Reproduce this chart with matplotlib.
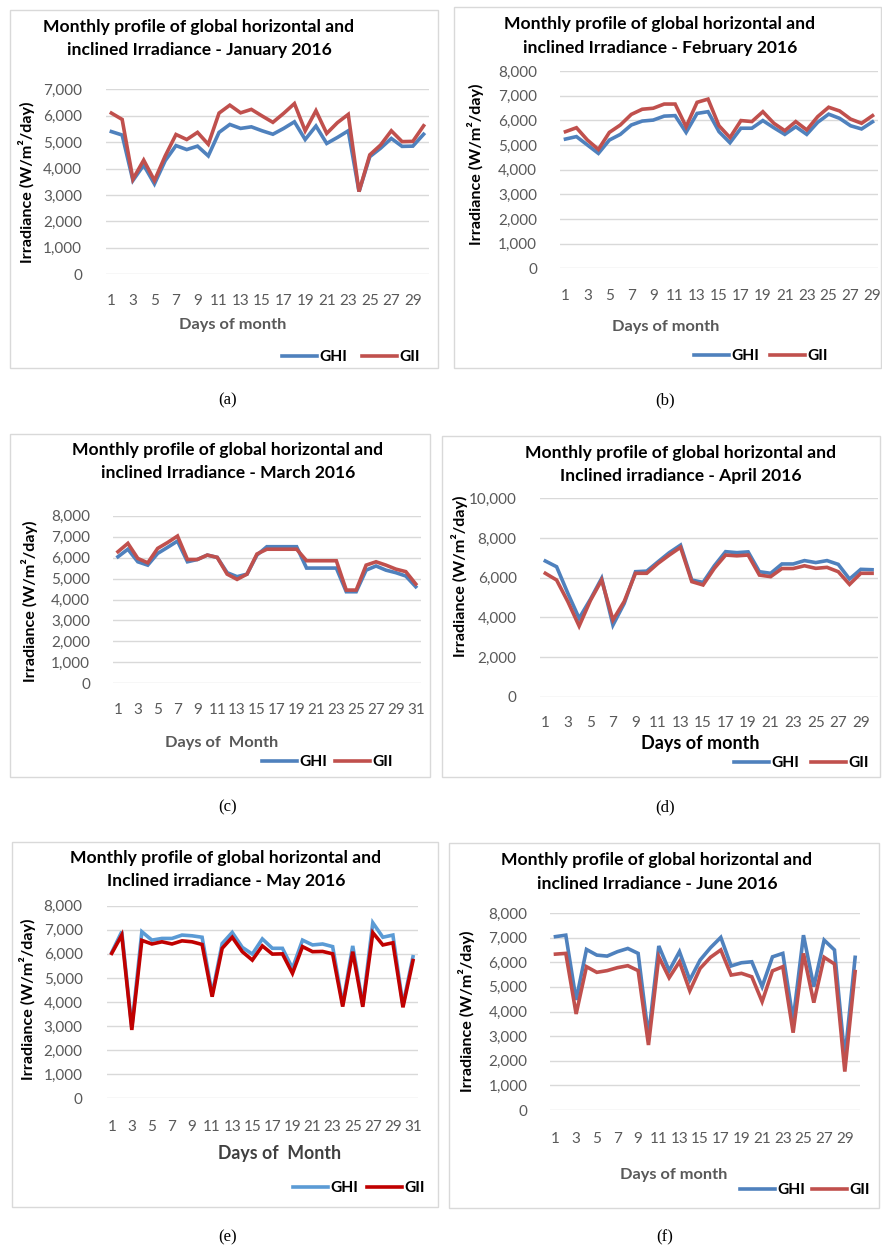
import matplotlib
matplotlib.use("Agg")
import matplotlib.pyplot as plt
from matplotlib.patches import Rectangle

W, H = 882, 1249

# ---------------- data ----------------
jan_ghi = [5400, 5270, 3550, 4130, 3420, 4300, 4870, 4720, 4850, 4480, 5370, 5670, 5520, 5580, 5430,
           5300, 5520, 5770, 5100, 5610, 4950, 5180, 5430, 3130, 4450, 4770, 5140, 4840, 4850, 5300]
jan_gii = [6100, 5860, 3600, 4320, 3550, 4480, 5290, 5100, 5370, 4920, 6100, 6400, 6110, 6240, 5990,
           5750, 6090, 6460, 5430, 6190, 5330, 5740, 6050, 3130, 4520, 4890, 5430, 5020, 5030, 5620]

feb_ghi = [5240, 5340, 5000, 4660, 5200, 5430, 5810, 5970, 6010, 6170, 6190, 5510, 6280, 6350, 5540,
           5090, 5680, 5680, 5990, 5700, 5430, 5740, 5430, 5920, 6250, 6080, 5780, 5650, 5940]
feb_gii = [5540, 5700, 5200, 4820, 5510, 5810, 6240, 6450, 6490, 6660, 6660, 5740, 6730, 6860, 5780,
           5300, 5990, 5950, 6350, 5880, 5580, 5950, 5610, 6150, 6530, 6380, 6050, 5880, 6190]

mar_ghi = [6040, 6400, 5800, 5640, 6200, 6490, 6790, 5800, 5910, 6120, 6010, 5280, 5090, 5210, 6120,
           6520, 6520, 6520, 6520, 5500, 5500, 5500, 5500, 4370, 4370, 5400, 5600, 5400, 5280, 5120, 4610]
mar_gii = [6280, 6680, 5960, 5750, 6440, 6720, 7030, 5910, 5910, 6120, 6010, 5210, 4960, 5210, 6170,
           6400, 6400, 6400, 6400, 5850, 5850, 5850, 5850, 4450, 4450, 5640, 5800, 5640, 5450, 5330, 4740]

apr_ghi = [6840, 6550, 5210, 3950, 4910, 5970, 3610, 4700, 6300, 6330, 6800, 7260, 7640, 5880, 5760,
           6600, 7310, 7260, 7300, 6300, 6220, 6690, 6690, 6860, 6760, 6860, 6670, 5930, 6420, 6400]
apr_gii = [6220, 5880, 4790, 3560, 4850, 5880, 3870, 4800, 6220, 6220, 6720, 7140, 7530, 5800, 5630,
           6470, 7140, 7100, 7140, 6130, 6050, 6460, 6460, 6600, 6470, 6520, 6300, 5660, 6220, 6220]

may_ghi = [6060, 6920, 2950, 6920, 6570, 6640, 6640, 6780, 6750, 6690, 4330, 6430, 6890, 6270, 5990, 6620,
           6230, 6230, 5400, 6570, 6370, 6410, 6300, 3900, 6330, 3880, 7290, 6690, 6780, 3880, 5880]
may_gii = [6020, 6780, 2840, 6560, 6410, 6500, 6410, 6540, 6500, 6390, 4220, 6230, 6690, 6090, 5740, 6330,
           5990, 6000, 5190, 6300, 6090, 6100, 6000, 3810, 6090, 3800, 6880, 6370, 6460, 3780, 5720]

jun_ghi = [7040, 7100, 4470, 6520, 6290, 6250, 6430, 6560, 6360, 2980, 6660, 5660, 6430, 5280, 6090,
           6590, 7010, 5850, 5980, 6020, 5010, 6220, 6360, 3650, 7100, 5010, 6900, 6500, 2100, 6200]
jun_gii = [6330, 6360, 3900, 5820, 5590, 5660, 5780, 5860, 5660, 2640, 6220, 5370, 6020, 4840, 5750,
           6200, 6500, 5480, 5550, 5410, 4400, 5650, 5820, 3140, 6360, 4360, 6200, 5930, 1560, 5620]

titles = [
    ("Monthly profile of global horizontal and", "inclined Irradiance - January 2016"),
    ("Monthly profile of global horizontal and", "inclined Irradiance - February 2016"),
    ("Monthly profile of global horizontal and", "inclined Irradiance - March 2016"),
    ("Monthly profile of global horizontal and", "Inclined irradiance - April 2016"),
    ("Monthly profile of global horizontal and", "Inclined irradiance - May 2016"),
    ("Monthly profile of global horizontal and", "inclined Irradiance - June 2016"),
]
xlabels = ["Days of month", "Days of month", "Days of  Month", "Days of month", "Days of  Month", "Days of month"]
captions = ["(a)", "(b)", "(c)", "(d)", "(e)", "(f)"]
series_names = ["GHI", "GII"]
ylabel = "Irradiance (W/m\u00b2/day)"

# ---------------- layout (pixels) ----------------
panels = [
    dict(ghi=jan_ghi, gii=jan_gii, ymax=7000, step=1000, box=(10, 10, 438, 368),
         ax=(106, 429, 89.3, 274.3), ypad=24, xpad=20, tt=(199, 32, 55), yl=(27, 182),
         xl=(233, 325), xlcol="#595959", xlsize=11.8, leg=(282, 362, 357),
         cap=(228, 400), c1="#4F81BD", c2="#C0504D"),
    dict(ghi=feb_ghi, gii=feb_gii, ymax=8000, step=1000, box=(454, 7, 881, 368),
         ax=(560, 878, 71, 268.3), ypad=23, xpad=21, tt=(660, 29, 53), yl=(475, 164),
         xl=(666, 327), xlcol="#595959", xlsize=11.8, leg=(694, 770, 356),
         cap=(665, 400), c1="#4F81BD", c2="#C0504D"),
    dict(ghi=mar_ghi, gii=mar_gii, ymax=8000, step=1000, box=(10, 434, 430, 777),
         ax=(113, 420.7, 515.7, 683.3), ypad=23, xpad=20, tt=(228, 455, 478), yl=(30, 601),
         xl=(222, 743), xlcol="#595959", xlsize=11.8, leg=(262, 335, 762),
         cap=(228, 807), c1="#4F81BD", c2="#C0504D"),
    dict(ghi=apr_ghi, gii=apr_gii, ymax=10000, step=2000, box=(442, 436, 880, 777),
         ax=(539.7, 877.7, 498.3, 696.7), ypad=23, xpad=19, tt=(681, 458, 481), yl=(460, 576),
         xl=(700, 744), xlcol="#000000", xlsize=13, leg=(734, 811, 763),
         cap=(665, 807), c1="#4F81BD", c2="#C0504D"),
    dict(ghi=may_ghi, gii=may_gii, ymax=8000, step=1000, box=(12, 842, 438, 1207),
         ax=(106.7, 418, 905.7, 1098.3), ypad=24, xpad=22, tt=(226, 863, 886), yl=(28, 999),
         xl=(280, 1153), xlcol="#404040", xlsize=12.8, leg=(293, 367, 1188),
         cap=(228, 1237), c1="#5B9BD5", c2="#C00000"),
    dict(ghi=jun_ghi, gii=jun_gii, ymax=8000, step=1000, box=(449, 843, 879, 1208),
         ax=(550.3, 860.3, 913, 1110), ypad=23, xpad=22, tt=(657, 865, 889), yl=(467, 1011),
         xl=(674, 1175), xlcol="#595959", xlsize=11.8, leg=(740, 812, 1190),
         cap=(665, 1237), c1="#4F81BD", c2="#C0504D"),
]

FONT = "Lato"
plt.rcParams["font.family"] = [FONT, "DejaVu Sans"]

fig = plt.figure(figsize=(W / 100, H / 100), dpi=100)
fig.patch.set_facecolor("white")


def fx(x):
    return x / W


def fy(y):
    return 1 - y / H


LEG_FS = 11.2
for i, p in enumerate(panels):
    bx0, by0, bx1, by1 = p["box"]
    fig.add_artist(Rectangle((fx(bx0), fy(by1)), fx(bx1) - fx(bx0), fy(by0) - fy(by1),
                             transform=fig.transFigure, fill=False, edgecolor="#D9D9D9", lw=1.0))
    x0, x1, yt, yb = p["ax"]
    ax = fig.add_axes([fx(x0), fy(yb), fx(x1) - fx(x0), fy(yt) - fy(yb)])
    n = len(p["ghi"])
    days = list(range(1, n + 1))
    l1, = ax.plot(days, p["ghi"], color=p["c1"], lw=2.6, solid_joinstyle="miter", zorder=3)
    l2, = ax.plot(days, p["gii"], color=p["c2"], lw=2.6, solid_joinstyle="miter", zorder=4)
    ax.set_xlim(0.5, n + 0.5)
    ax.set_ylim(0, p["ymax"])
    ax.set_yticks(range(0, p["ymax"] + 1, p["step"]))
    ax.set_yticklabels([f"{v:,}" for v in range(0, p["ymax"] + 1, p["step"])])
    ax.set_xticks(days[::2])
    ax.set_xticklabels([str(d) for d in days[::2]])
    ax.grid(axis="y", color="#D9D9D9", lw=1.0, zorder=0)
    ax.set_axisbelow(True)
    for s in ax.spines.values():
        s.set_visible(False)
    ax.tick_params(axis="both", length=0, labelsize=11, labelcolor="#595959")
    ax.tick_params(axis="y", pad=p["ypad"] * 0.72)
    ax.tick_params(axis="x", pad=p["xpad"] * 0.72)
    ax.patch.set_alpha(0)

    tx, t1, t2 = p["tt"]
    fig.text(fx(tx), fy(t1), titles[i][0], ha="center", va="baseline", fontsize=12.6,
             fontweight="bold", color="black")
    fig.text(fx(tx), fy(t2), titles[i][1], ha="center", va="baseline", fontsize=12.6,
             fontweight="bold", color="black")
    fig.text(fx(p["yl"][0]), fy(p["yl"][1]), ylabel, rotation=90,
             ha="center", va="center", fontsize=11.6, fontweight="bold", color="black")
    fig.text(fx(p["xl"][0]), fy(p["xl"][1]), xlabels[i], ha="center", va="center",
             fontsize=p["xlsize"], fontweight="bold", color=p["xlcol"])

    lx1, lx2, ly = p["leg"]
    legs = []
    for handle, name, lx in ((l1, series_names[0], lx1), (l2, series_names[1], lx2)):
        lg = ax.legend([handle], [name], loc="center left",
                       bbox_to_anchor=(fx(lx), fy(ly)),
                       bbox_transform=fig.transFigure, frameon=False,
                       prop=dict(family=[FONT], weight="bold", size=LEG_FS),
                       handlelength=35 / (LEG_FS / 0.72), handletextpad=0.15,
                       borderpad=0, borderaxespad=0)
        legs.append(lg)
    ax.add_artist(legs[0])

    fig.text(fx(p["cap"][0]), fy(p["cap"][1]), captions[i], ha="center", va="center",
             fontsize=12, family=["Liberation Serif"], color="black")

fig.savefig("out.png", dpi=100, facecolor="white")
